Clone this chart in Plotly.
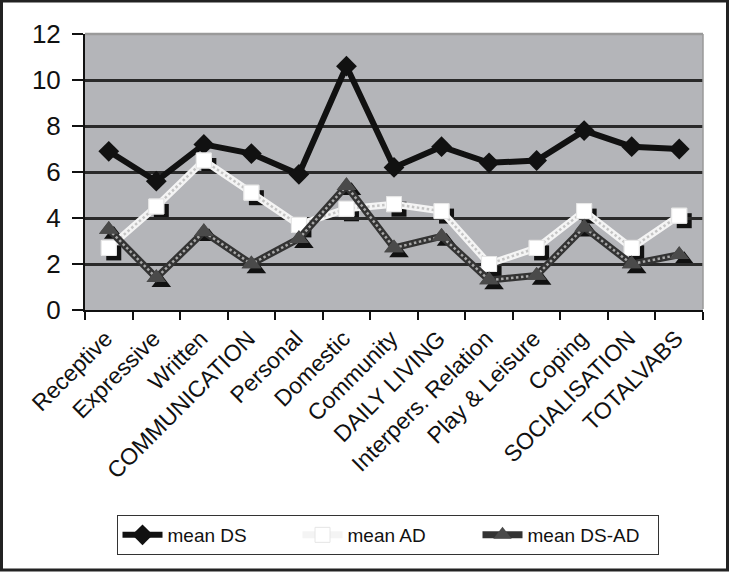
import plotly.graph_objects as go

categories = ["Receptive", "Expressive", "Written", "COMMUNICATION", "Personal",
              "Domestic", "Community", "DAILY LIVING", "Interpers. Relation",
              "Play & Leisure", "Coping", "SOCIALISATION", "TOTALVABS"]
mean_ds = [6.9, 5.6, 7.2, 6.8, 5.9, 10.6, 6.2, 7.1, 6.4, 6.5, 7.8, 7.1, 7.0]
mean_ad = [2.7, 4.5, 6.5, 5.1, 3.7, 4.4, 4.6, 4.3, 2.0, 2.7, 4.3, 2.7, 4.1]
mean_ds_ad = [3.5, 1.4, 3.4, 2.0, 3.1, 5.4, 2.7, 3.2, 1.3, 1.5, 3.6, 2.0, 2.4]
y_ticks = [0, 2, 4, 6, 8, 10, 12]

W, H = 729, 572
SH = 5  # shadow offset px
L, R, T, B = 85, 729 - 703 - SH, 34, 572 - 310 - SH
PW = W - L - R
PH = H - T - B


def px_x(x):
    return (x - L) / PW


def px_y(y):
    return (H - B - y) / PH


FONT = "Liberation Sans, Arial, sans-serif"
xr = [-0.5, len(categories) - 0.5]
yr = [0, 12]

fig = go.Figure()

# shadow markers (offset subplot x/y)
fig.add_trace(go.Scatter(x=categories, y=mean_ad, mode="markers", xaxis="x", yaxis="y",
                         marker=dict(symbol="square", size=15, color="#111"),
                         showlegend=False, hoverinfo="skip"))
fig.add_trace(go.Scatter(x=categories, y=mean_ds_ad, mode="markers", xaxis="x", yaxis="y",
                         marker=dict(symbol="triangle-up", size=17, color="#111"),
                         showlegend=False, hoverinfo="skip"))

# main series
fig.add_trace(go.Scatter(x=categories, y=mean_ds, mode="lines+markers", name="mean DS",
                         xaxis="x2", yaxis="y2",
                         line=dict(color="#111", width=6),
                         marker=dict(symbol="diamond", size=16, color="#111")))

fig.add_trace(go.Scatter(x=categories, y=mean_ad, mode="lines+markers", name="mean AD",
                         xaxis="x2", yaxis="y2",
                         line=dict(color="#f4f4f4", width=7),
                         marker=dict(symbol="square", size=15, color="white",
                                     line=dict(color="#e6e6e6", width=1))))
fig.add_trace(go.Scatter(x=categories, y=mean_ad, mode="lines", xaxis="x2", yaxis="y2",
                         line=dict(color="#c4c4c4", width=2.5, dash="2.5px,2.5px"),
                         showlegend=False, hoverinfo="skip"))
fig.add_trace(go.Scatter(x=categories, y=mean_ad, mode="markers", xaxis="x2", yaxis="y2",
                         marker=dict(symbol="square", size=15, color="white",
                                     line=dict(color="#e6e6e6", width=1)),
                         showlegend=False, hoverinfo="skip"))

fig.add_trace(go.Scatter(x=categories, y=mean_ds_ad, mode="lines+markers", name="mean DS-AD",
                         xaxis="x2", yaxis="y2",
                         line=dict(color="#333333", width=7),
                         marker=dict(symbol="triangle-up", size=17, color="#4a4a4a")))
fig.add_trace(go.Scatter(x=categories, y=mean_ds_ad, mode="lines", xaxis="x2", yaxis="y2",
                         line=dict(color="#a8a8a8", width=2.5, dash="2.5px,2.5px"),
                         showlegend=False, hoverinfo="skip"))
fig.add_trace(go.Scatter(x=categories, y=mean_ds_ad, mode="markers", xaxis="x2", yaxis="y2",
                         marker=dict(symbol="triangle-up", size=17, color="#4a4a4a"),
                         showlegend=False, hoverinfo="skip"))

main_xd = [0, (PW - SH) / PW]
main_yd = [SH / PH, 1]
sh_xd = [SH / PW, 1]
sh_yd = [0, (PH - SH) / PH]

fig.update_layout(
    width=W, height=H,
    margin=dict(l=L, r=R, t=T, b=B, autoexpand=False),
    paper_bgcolor="white",
    plot_bgcolor="rgba(0,0,0,0)",
    font=dict(family=FONT, color="#111"),
    xaxis=dict(domain=sh_xd, range=xr, type="category", visible=False, fixedrange=True),
    yaxis=dict(domain=sh_yd, range=yr, visible=False, fixedrange=True),
    xaxis2=dict(domain=main_xd, anchor="y2", range=xr, type="category",
                showline=True, linecolor="#111", linewidth=2,
                ticks="outside", ticklen=8, tickwidth=2, tickcolor="#111",
                tickson="boundaries", tickangle=-45, showgrid=False,
                ticklabelstandoff=4, ticklabelshift=-3,
                tickfont=dict(size=23, family=FONT, color="#111"), automargin=False),
    yaxis2=dict(domain=main_yd, anchor="x2", range=yr, tickvals=y_ticks,
                showline=True, linecolor="#111", linewidth=2,
                ticks="outside", ticklen=11, tickwidth=2, tickcolor="#111",
                showgrid=True, gridcolor="#2a2a2a", gridwidth=2.5, zeroline=False,
                ticklabelstandoff=6,
                tickfont=dict(size=26, family=FONT, color="#111"), automargin=False),
    legend=dict(orientation="h", x=px_x(387.5), y=px_y(515), xanchor="center", yanchor="top",
                bgcolor="white", bordercolor="#333", borderwidth=1,
                font=dict(size=19, family=FONT, color="#111"),
                itemwidth=40, entrywidth=125, tracegroupgap=0),
    showlegend=True,
    shapes=[
        # plot area background
        dict(type="rect", xref="paper", yref="paper", x0=px_x(85), x1=px_x(703),
             y0=px_y(310), y1=px_y(34), fillcolor="#b4b5b9", line=dict(width=0),
             layer="below"),
        # light top and right edge of plot area
        dict(type="line", xref="paper", yref="paper", x0=px_x(85), x1=px_x(703),
             y0=px_y(34), y1=px_y(34), line=dict(color="#9a9a9a", width=2.5), layer="above"),
        dict(type="line", xref="paper", yref="paper", x0=px_x(703), x1=px_x(703),
             y0=px_y(34), y1=px_y(309), line=dict(color="#9a9a9a", width=1.5), layer="above"),
        # outer frame
        dict(type="rect", xref="paper", yref="paper", x0=px_x(1.5), x1=px_x(727.5),
             y0=px_y(570), y1=px_y(1), line=dict(color="#222", width=3),
             fillcolor="rgba(0,0,0,0)", layer="above"),
    ],
)

fig.write_html("out.html", config={"displayModeBar": False},
               post_script="document.body.style.margin='0';document.body.style.overflow='hidden';")
